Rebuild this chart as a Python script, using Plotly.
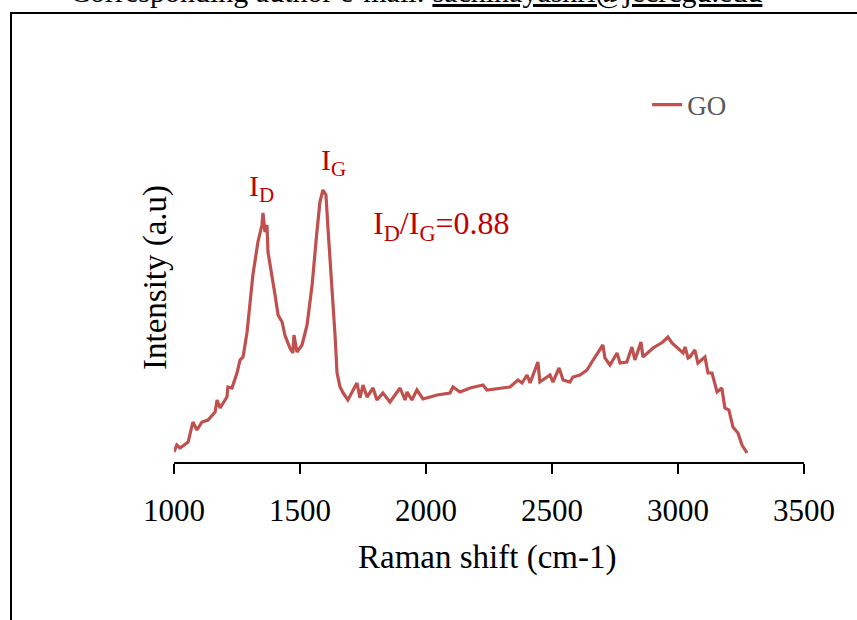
import plotly.graph_objects as go

# Raman spectrum of GO
raman_shift = [1000, 1011, 1024, 1056, 1075, 1091, 1111, 1135, 1163, 1171, 1183, 1210, 1214, 1230,
               1250, 1262, 1274, 1290, 1313, 1333, 1349, 1353, 1361, 1369, 1373, 1389, 1401, 1413,
               1429, 1440, 1460, 1472, 1476, 1488, 1508, 1528, 1548, 1567, 1579, 1591, 1603, 1611,
               1627, 1639, 1647, 1659, 1671, 1690, 1726, 1738, 1750, 1766, 1790, 1805, 1829, 1857,
               1897, 1917, 1925, 1944, 1964, 1988, 2044, 2095, 2107, 2135, 2175, 2226, 2242, 2294,
               2333, 2365, 2381, 2401, 2413, 2444, 2452, 2492, 2504, 2528, 2544, 2571, 2583, 2611,
               2639, 2663, 2682, 2702, 2710, 2730, 2758, 2770, 2797, 2817, 2829, 2853, 2861, 2901,
               2940, 2960, 2976, 2996, 3020, 3028, 3040, 3047, 3067, 3079, 3107, 3119, 3135, 3155,
               3174, 3186, 3202, 3218, 3238, 3254, 3274]
intensity = [10, 17, 14, 20, 40, 32, 40, 42, 50, 62, 54, 65, 75, 74,
             89, 102, 105, 130, 187, 220, 237, 249, 230, 237, 210, 187, 167, 147,
             140, 127, 114, 109, 127, 110, 117, 137, 177, 230, 260, 272, 267, 234,
             177, 127, 89, 75, 69, 62, 79, 64, 77, 65, 74, 62, 69, 60,
             74, 62, 70, 62, 72, 63, 67, 69, 75, 70, 74, 77, 72, 74,
             75, 82, 79, 87, 79, 100, 80, 87, 80, 94, 82, 80, 85, 87,
             92, 102, 109, 117, 104, 97, 109, 99, 100, 115, 102, 120, 105, 114,
             120, 125, 119, 114, 109, 115, 104, 105, 112, 99, 105, 89, 89, 70,
             74, 54, 52, 35, 29, 17, 9]

series_name = "GO"
x_ticks = [1000, 1500, 2000, 2500, 3000, 3500]
x_title = "Raman shift (cm-1)"
y_title = "Intensity (a.u)"
ratio_text = "I<sub>D</sub>/I<sub>G</sub>=0.88"
header_text = "Corresponding author e-mail: <u>sachinayashri@jecrcgu.edu</u>"

FONT = "Liberation Serif, Times New Roman, serif"
RED = "#C00000"

fig = go.Figure()
fig.add_trace(go.Scatter(x=raman_shift, y=intensity, mode="lines", name=series_name,
                         line=dict(color="#C0504D", width=3.2)))

fig.update_layout(
    width=857, height=620,
    margin=dict(l=174, r=53, t=62, b=158),
    paper_bgcolor="white", plot_bgcolor="white",
    font=dict(family=FONT, color="black", size=28),
    showlegend=True,
    legend=dict(x=0.751, y=0.8925, xanchor="left", yanchor="middle",
                font=dict(family=FONT, size=27, color="#595959"),
                bgcolor="rgba(0,0,0,0)", borderwidth=0),
    xaxis=dict(range=[1000, 3500], tickvals=x_ticks, ticktext=[str(v) for v in x_ticks],
               showline=True, linecolor="black", linewidth=1.5, ticks="outside",
               ticklen=10, tickwidth=1.5, tickcolor="black", showgrid=False, zeroline=False,
               ticklabelstandoff=10,
               tickfont=dict(family=FONT, size=31, color="black"), fixedrange=True),
    yaxis=dict(range=[0, 400], showline=False, showticklabels=False, ticks="",
               showgrid=False, zeroline=False, fixedrange=True),
)

# Border frame (cut off by the page edges)
fig.add_shape(type="rect", xref="paper", yref="paper",
              x0=(11 - 174) / 630, x1=(900 - 174) / 630,
              y0=(462 - 700) / 400, y1=(462 - 13) / 400,
              line=dict(color="black", width=2), fillcolor="rgba(0,0,0,0)", layer="below")

# Axis titles
fig.add_annotation(text=x_title, xref="paper", yref="paper", x=(487 - 174) / 630,
                   y=(462 - 557) / 400, showarrow=False, xanchor="center", yanchor="middle",
                   font=dict(family=FONT, size=33, color="black"))
fig.add_annotation(text=y_title, xref="paper", yref="paper", x=(155 - 174) / 630,
                   y=(462 - 278) / 400, showarrow=False, textangle=-90,
                   xanchor="center", yanchor="middle",
                   font=dict(family=FONT, size=33, color="black"))

# Peak labels
fig.add_annotation(text="I<sub>D</sub>", x=1349, y=274, showarrow=False,
                   font=dict(family=FONT, size=30, color=RED))
fig.add_annotation(text="I<sub>G</sub>", x=1631, y=300, showarrow=False,
                   font=dict(family=FONT, size=30, color=RED))
fig.add_annotation(text=ratio_text, x=1780, y=237, xanchor="left", showarrow=False,
                   font=dict(family=FONT, size=32, color=RED))

# Header text, mostly outside the page top
fig.add_annotation(text=header_text, xref="paper", yref="paper", x=(416 - 174) / 630,
                   y=(462 - 11) / 400, xanchor="center", yanchor="bottom", showarrow=False,
                   font=dict(family=FONT, size=30, color="black"))

fig.write_html("out.html", config={"displayModeBar": False, "staticPlot": True},
               post_script="document.body.style.margin='0';document.body.style.overflow='hidden';")
